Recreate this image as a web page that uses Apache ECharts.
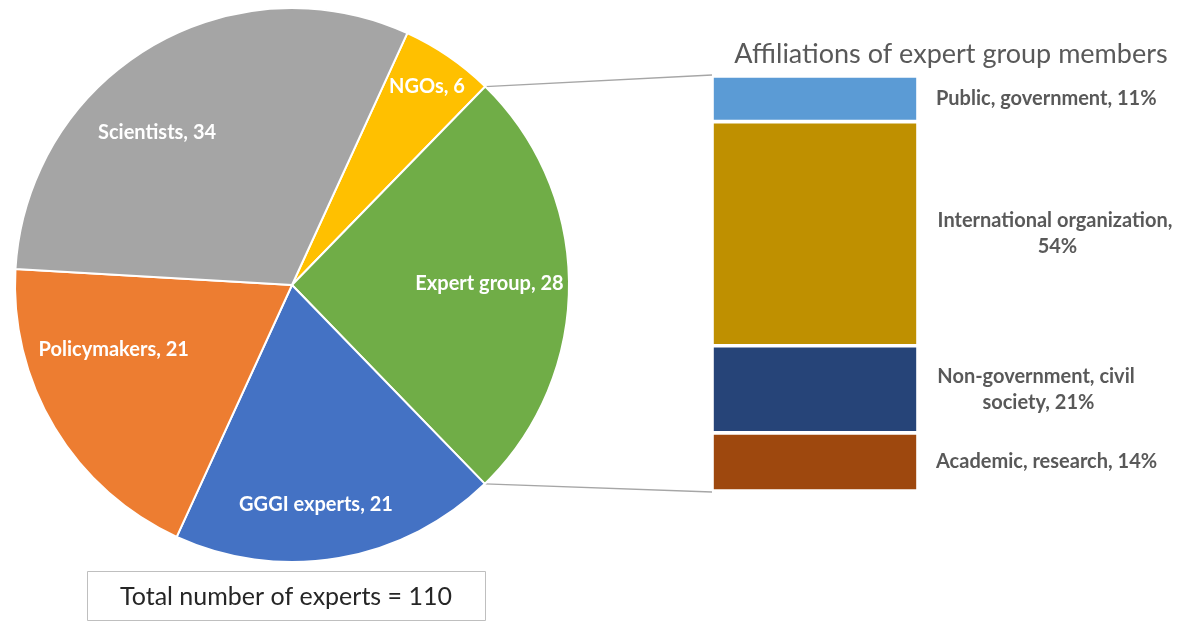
<!DOCTYPE html>
<html>
<head>
<meta charset="utf-8">
<script src="https://cdn.jsdelivr.net/npm/echarts@6/dist/echarts.min.js"></script>
<style>
html,body{margin:0;padding:0;background:#fff;}
#chart{width:1182px;height:625px;}
</style>
</head>
<body>
<div id="chart"></div>
<script>
// ---- data ----
const pieNames = ['NGOs', 'Expert group', 'GGGI experts', 'Policymakers', 'Scientists'];
const pieValues = [6, 28, 21, 21, 34];
const affNames = ['Public, government', 'International organization', 'Non-government, civil society', 'Academic, research'];
const affValues = [11, 54, 21, 14];
const titleText = 'Affiliations of expert group members';
const totalLabel = 'Total number of experts';

// ---- styles ----
const pieColors = ['#FFC000', '#70AD47', '#4472C4', '#ED7D31', '#A5A5A5'];
const affColors = ['#5B9BD5', '#BF9000', '#264478', '#9E480E'];
const pieLabelOffsets = [[55, -82], [56, -2], [0, 80], [-57, -8], [-62, -31]];
const affLabelWidths = [0, 238, 200, 0];
const FONT = 'Lato';

(function () {
const chart = echarts.init(document.getElementById('chart'));
const total = pieValues.reduce((a, b) => a + b, 0);

const pieData = pieNames.map((n, i) => ({
  name: n, value: pieValues[i],
  itemStyle: { color: pieColors[i] },
  label: { offset: pieLabelOffsets[i] }
}));

const barSeries = affNames.map((n, i) => {
  const w = affLabelWidths[i];
  const label = {
    show: true, position: 'right', distance: 18,
    color: '#595959', fontFamily: FONT, fontWeight: 'bold', fontSize: 20, lineHeight: 26,
    formatter: () => n + ', ' + affValues[i] + '%'
  };
  if (w) {
    Object.assign(label, { width: w, overflow: 'break', align: 'center', offset: [w / 2, 0] });
  }
  return {
    type: 'bar', name: n, stack: 'aff', xAxisIndex: 0, yAxisIndex: 0,
    data: [affValues[i]], barWidth: '100%',
    itemStyle: { color: affColors[i], borderColor: '#fff', borderWidth: 1.8 },
    label: label, animation: false
  };
});

const option = {
  animation: false,
  textStyle: { fontFamily: FONT },
  title: {
    text: titleText, left: 946, top: 36, textAlign: 'center',
    textStyle: { fontFamily: FONT, fontWeight: 'normal', fontSize: 27, color: '#595959' }
  },
  grid: { left: 712, top: 76, width: 206, height: 415, containLabel: false },
  xAxis: { type: 'category', data: ['Expert group'], show: false },
  yAxis: { type: 'value', min: 0, max: affValues.reduce((a, b) => a + b, 0), inverse: true, show: false },
  series: [
    {
      type: 'pie', center: [292, 285], radius: ['0%', 277], startAngle: 65.4, clockwise: true,
      data: pieData, animation: false,
      itemStyle: { borderColor: '#fff', borderWidth: 2 },
      label: { show: true, position: 'inside', formatter: p => p.name + ', ' + p.value,
               color: '#fff', fontFamily: FONT, fontWeight: 'bold', fontSize: 20 },
      labelLine: { show: false },
      emphasis: { disabled: true }
    }
  ].concat(barSeries),
  graphic: [
    { type: 'rect', shape: { x: 87.5, y: 571.5, width: 398, height: 49 },
      style: { fill: '#fff', stroke: '#BFBFBF', lineWidth: 1 } },
    { type: 'text', x: 286, y: 597,
      style: { text: totalLabel + ' = ' + total, fill: '#262626', font: '25px ' + FONT, align: 'center', verticalAlign: 'middle' } }
  ]
};
chart.setOption(option);

// connector lines from the expert-group slice edges to the bar corners
const lay = chart.getModel().getSeriesByIndex(0).getData().getItemLayout(1);
function edgePoint(angle) {
  return [lay.cx + lay.r * Math.cos(angle), lay.cy + lay.r * Math.sin(angle)];
}
const a1 = edgePoint(lay.startAngle), a2 = edgePoint(lay.endAngle);
const rect = chart.getModel().getComponent('grid', 0).coordinateSystem.getRect();
const pTop = [rect.x, rect.y - 1];
const pBot = [rect.x, rect.y + rect.height + 1];
const upper = a1[1] < a2[1] ? a1 : a2, lower = a1[1] < a2[1] ? a2 : a1;
option.graphic.push(
  { type: 'line', shape: { x1: upper[0], y1: upper[1], x2: pTop[0], y2: pTop[1] }, style: { stroke: '#A6A6A6', lineWidth: 1.3 } },
  { type: 'line', shape: { x1: lower[0], y1: lower[1], x2: pBot[0], y2: pBot[1] }, style: { stroke: '#A6A6A6', lineWidth: 1.3 } }
);
chart.setOption({ graphic: option.graphic });
})();
</script>
</body>
</html>
